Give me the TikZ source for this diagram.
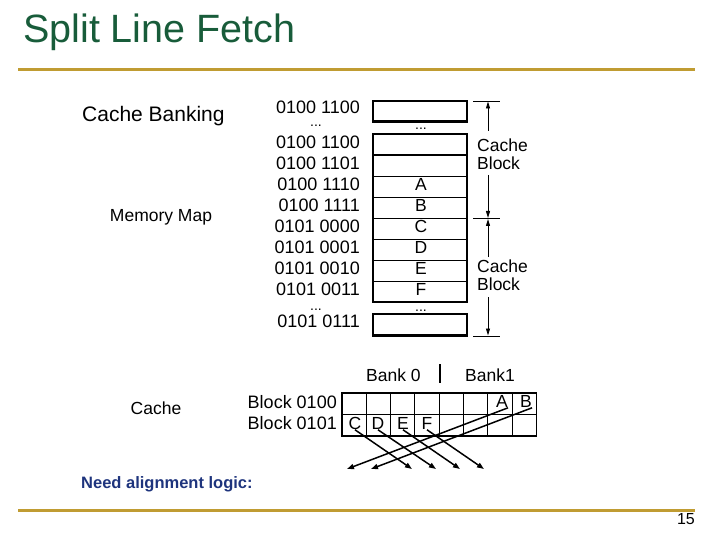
\documentclass[tikz,border=0pt]{standalone}
\usepackage{fontspec}
\setmainfont{Liberation Sans}
\usetikzlibrary{arrows.meta}
\definecolor{titlegreen}{RGB}{24,92,58}
\definecolor{rulegold}{RGB}{192,156,50}
\definecolor{noteblue}{RGB}{30,52,125}
\tikzset{
  txt/.style={inner sep=0pt, text height=0.72em, text depth=0pt, font=\fontsize{#1}{#1}\selectfont},
  dots/.style={inner sep=0pt, anchor=base, font=\fontsize{14}{14}\selectfont},
  boldline/.style={line width=2.3pt},
  thinline/.style={line width=0.9pt},
  gridline/.style={line width=1.1pt},
  rulestyle/.style={rulegold, line width=3pt},
  fetcharrow/.style={line width=1.5pt, -{Triangle[length=7pt,width=5pt]}},
  dimarrow/.style={line width=0.9pt, -{Triangle[length=7pt,width=4pt]}},
}
\begin{document}
\begin{tikzpicture}[x=1pt,y=-1pt]
\useasboundingbox (0,0) rectangle (720,540);
% title and rules
\node[txt=39.5, anchor=west, text=titlegreen] (title) at (23,39) {Split Line Fetch};
\draw[rulestyle] (18,70) -- (695,70);
\draw[rulestyle] (18,510) -- (695,510);
\node[txt=16, anchor=east] (pg) at (695,521) {15};
\node[txt=16.5, anchor=west, text=noteblue, font=\fontsize{16.5}{16.5}\selectfont\bfseries] (note) at (81,485) {Need alignment logic:};

% left labels
\node[txt=21, anchor=west] (cb) at (82,118) {Cache Banking};
\node[txt=17.5] (mm) at (161,218) {Memory Map};
\node[txt=17.5] (cachelbl) at (156,411) {Cache};

% memory map
\draw[boldline] (373,101) rectangle (467,121.5);
\node[dots] (d1) at (421,130) {...};
\foreach \i in {1,...,7} {
  \draw[thinline] (373,{134+21*\i}) -- (467,{134+21*\i});
}
\draw[boldline] (373,155) -- (467,155);
\draw[boldline] (373,134) rectangle (467,302);
\node[dots] (d2) at (421,311) {...};
\draw[boldline] (373,314) rectangle (467,335.5);

\node[txt=18, anchor=east] (a0) at (360,110) {0100 1100};
\node[dots] (ld1) at (316,127) {...};
\node[txt=18, anchor=east] (a1) at (360,145) {0100 1100};
\node[txt=18, anchor=east] (a2) at (360,166) {0100 1101};
\node[txt=18, anchor=east] (a3) at (360,187) {0100 1110};
\node[txt=18, anchor=east] (a4) at (360,208) {0100 1111};
\node[txt=18, anchor=east] (a5) at (360,229) {0101 0000};
\node[txt=18, anchor=east] (a6) at (360,250) {0101 0001};
\node[txt=18, anchor=east] (a7) at (360,271) {0101 0010};
\node[txt=18, anchor=east] (a8) at (360,292) {0101 0011};
\node[dots] (ld2) at (316,310) {...};
\node[txt=18, anchor=east] (a9) at (360,324) {0101 0111};

\node[txt=17.5] (mA) at (421,187) {A};
\node[txt=17.5] (mB) at (421,208) {B};
\node[txt=17.5] (mC) at (421,229) {C};
\node[txt=17.5] (mD) at (421,250) {D};
\node[txt=17.5] (mE) at (421,271) {E};
\node[txt=17.5] (mF) at (421,292) {F};

% right dimension marks
\draw[thinline] (473,101) -- (500,101);
\draw[thinline] (473,218.5) -- (500,218.5);
\draw[thinline] (473,336) -- (500,336);
\node[txt=17.5, anchor=west] (cb1a) at (477,148) {Cache};
\node[txt=17.5, anchor=west] (cb1b) at (477,166) {Block};
\node[txt=17.5, anchor=west] (cb2a) at (477,269) {Cache};
\node[txt=17.5, anchor=west] (cb2b) at (477,287) {Block};
\coordinate (t1) at (488,101.5);
\coordinate (t1e) at (488,131);
\coordinate (t2s) at (488,175);
\coordinate (t2) at (488,218);
\coordinate (t3) at (488,219);
\coordinate (t3e) at (488,257);
\coordinate (t4s) at (488,297);
\coordinate (t4) at (488,335.5);
\draw[dimarrow] (t1e) -- (t1);
\draw[dimarrow] (t2s) -- (t2);
\draw[dimarrow] (t3e) -- (t3);
\draw[dimarrow] (t4s) -- (t4);

% cache
\node[txt=17.5, anchor=west] (bank0) at (366,378) {Bank 0};
\node[txt=17.5, anchor=west] (bank1) at (465,378) {Bank1};
\draw[line width=2pt] (440,364) -- (440,383);
\node[txt=18, anchor=east] (blk0) at (337,405) {Block 0100};
\node[txt=18, anchor=east] (blk1) at (337,426) {Block 0101};
\foreach \i in {1,...,7} {
  \draw[gridline] ({342+24.3*\i},393) -- ({342+24.3*\i},436);
}
\draw[gridline] (342,414.5) -- (536.4,414.5);
\draw[line width=1.4pt] (342,393) rectangle (536.4,436);
\node[txt=17.5] (cA) at (502,404) {A};
\node[txt=17.5] (cB) at (526,404) {B};
\node[txt=17.5] (cC) at (355,426) {C};
\node[txt=17.5] (cD) at (378,426) {D};
\node[txt=17.5] (cE) at (403,426) {E};
\node[txt=17.5] (cF) at (427,426) {F};

\coordinate (eC) at (412,469);
\coordinate (eD) at (436,469);
\coordinate (eE) at (460,469);
\coordinate (eF) at (484,469);
\coordinate (eA) at (347,469);
\coordinate (eB) at (371,469);
\draw[fetcharrow] (cC.south) -- (eC);
\draw[fetcharrow] (cD.south) -- (eD);
\draw[fetcharrow] (cE.south) -- (eE);
\draw[fetcharrow] (cF.south) -- (eF);
\draw[fetcharrow] (cA.south east) -- (eA);
\draw[fetcharrow] (cB.south east) -- (eB);
\end{tikzpicture}
\end{document}
